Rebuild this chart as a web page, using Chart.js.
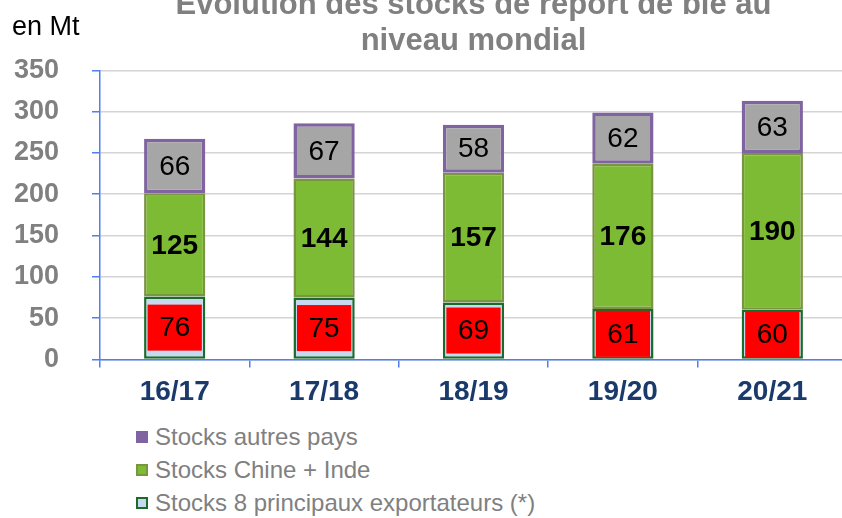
<!DOCTYPE html>
<html lang="fr">
<head>
<meta charset="utf-8">
<title>Stocks de report de blé</title>
<script src="https://cdn.jsdelivr.net/npm/chart.js@4/dist/chart.umd.min.js"></script>
<style>
  html, body { margin: 0; padding: 0; background: #fff; }
  body { width: 842px; height: 518px; overflow: hidden; position: relative; font-family: "Liberation Sans", Arial, sans-serif; }
  #wrap { position: absolute; left: 0; top: -22px; width: 847px; height: 439px; }
  #unit { position: absolute; left: 12px; top: 11px; font-size: 27px; color: #000; }
  #legend { position: absolute; left: 136px; top: 420px; list-style: none; margin: 0; padding: 0; }
  #legend li { height: 33px; display: flex; align-items: center; font-size: 24px; color: #808080; }
  #legend .box { width: 12px; height: 12px; margin-right: 7px; box-sizing: border-box; }
</style>
</head>
<body>
<div id="wrap"><canvas id="stocks" width="847" height="439"></canvas></div>
<div id="unit">en Mt</div>
<ul id="legend"></ul>
<script>
// valeurs en Mt
const campagnes = ["16/17", "17/18", "18/19", "19/20", "20/21"];
const stocksExportateurs = [76, 75, 69, 61, 60];
const stocksChineInde = [125, 144, 157, 176, 190];
const stocksAutres = [66, 67, 58, 62, 63];
const yTicks = [0, 50, 100, 150, 200, 250, 300, 350];

const blue = "#4f7ff0";

const datasets = [
  {
    label: "Stocks 8 principaux exportateurs (*)",
    data: stocksExportateurs,
    backgroundColor: "#c6d9f1",
    borderColor: "#1d6b2c",
    borderWidth: 2.5,
    labelBox: "#ff0000",
    labelFont: "normal 28px 'Liberation Sans', Arial, sans-serif",
  },
  {
    label: "Stocks Chine + Inde",
    data: stocksChineInde,
    backgroundColor: "#7cbb33",
    borderColor: "#7a9441",
    borderWidth: 2.5,
    labelFont: "bold 28px 'Liberation Sans', Arial, sans-serif",
  },
  {
    label: "Stocks autres pays",
    data: stocksAutres,
    backgroundColor: "#a6a6a6",
    borderColor: "#8064a2",
    borderWidth: 3.5,
    labelFont: "normal 28px 'Liberation Sans', Arial, sans-serif",
  },
];

// labels in the middle of each segment (red box under the bottom ones)
const segmentLabels = {
  id: "segmentLabels",
  afterDatasetsDraw(chart) {
    const ctx = chart.ctx;
    ctx.save();
    ctx.textAlign = "center";
    ctx.textBaseline = "middle";
    chart.data.datasets.forEach((ds, i) => {
      const meta = chart.getDatasetMeta(i);
      meta.data.forEach((bar, j) => {
        const p = bar.getProps(["x", "y", "base", "width"], true);
        const cy = (p.y + p.base) / 2;
        if (ds.labelBox) {
          ctx.fillStyle = ds.labelBox;
          ctx.fillRect(p.x - (p.width - 7) / 2, cy - 23, p.width - 7, 46);
        }
        ctx.fillStyle = "#000";
        ctx.font = ds.labelFont;
        ctx.fillText(String(ds.data[j]), p.x, cy + 1);
      });
    });
    ctx.restore();
  },
};

new Chart(document.getElementById("stocks"), {
  type: "bar",
  data: {
    labels: campagnes,
    datasets: datasets.map((d) => ({ ...d, borderSkipped: false })),
  },
  options: {
    responsive: false,
    animation: false,
    devicePixelRatio: 1,
    layout: { padding: { left: 0, right: 0, top: 0, bottom: 0 } },
    datasets: { bar: { barPercentage: 0.41, categoryPercentage: 1 } },
    plugins: {
      legend: { display: false },
      tooltip: { enabled: false },
      title: {
        display: true,
        fullSize: false,
        text: ["Evolution des stocks de report de blé au", "niveau mondial"],
        color: "#808080",
        font: { family: "'Liberation Sans', Arial, sans-serif", size: 31, weight: "bold", lineHeight: 1.15 },
        padding: { top: 10, bottom: 11 },
      },
    },
    scales: {
      x: {
        stacked: true,
        border: { color: blue, width: 1.5 },
        grid: { drawOnChartArea: false, tickColor: blue, tickLength: 8, lineWidth: 1.5 },
        ticks: {
          color: "#1a3a6b",
          padding: 8,
          font: { family: "'Liberation Sans', Arial, sans-serif", size: 28, weight: "bold" },
        },
      },
      y: {
        stacked: true,
        min: 0,
        max: 350,
        afterBuildTicks: (s) => { s.ticks = yTicks.map((v) => ({ value: v })); },
        afterFit: (s) => { s.width = 100; },
        border: { color: blue, width: 1.5 },
        grid: { color: "#d4d4d4", lineWidth: 1.5, tickColor: blue, tickLength: 8 },
        ticks: {
          color: "#808080",
          padding: 33,
          font: { family: "'Liberation Sans', Arial, sans-serif", size: 27, weight: "bold" },
        },
      },
    },
  },
  plugins: [segmentLabels],
});

// legend, top series first as in the original
const legend = document.getElementById("legend");
datasets.slice().reverse().forEach((d) => {
  const li = document.createElement("li");
  const box = document.createElement("span");
  box.className = "box";
  if (d.label.startsWith("Stocks autres")) {
    box.style.background = d.borderColor;
  } else if (d.label.startsWith("Stocks Chine")) {
    box.style.background = d.backgroundColor;
    box.style.border = "2px solid " + d.borderColor;
  } else {
    box.style.background = d.backgroundColor;
    box.style.border = "2.5px solid " + d.borderColor;
  }
  li.appendChild(box);
  li.appendChild(document.createTextNode(d.label));
  legend.appendChild(li);
});
</script>
</body>
</html>
